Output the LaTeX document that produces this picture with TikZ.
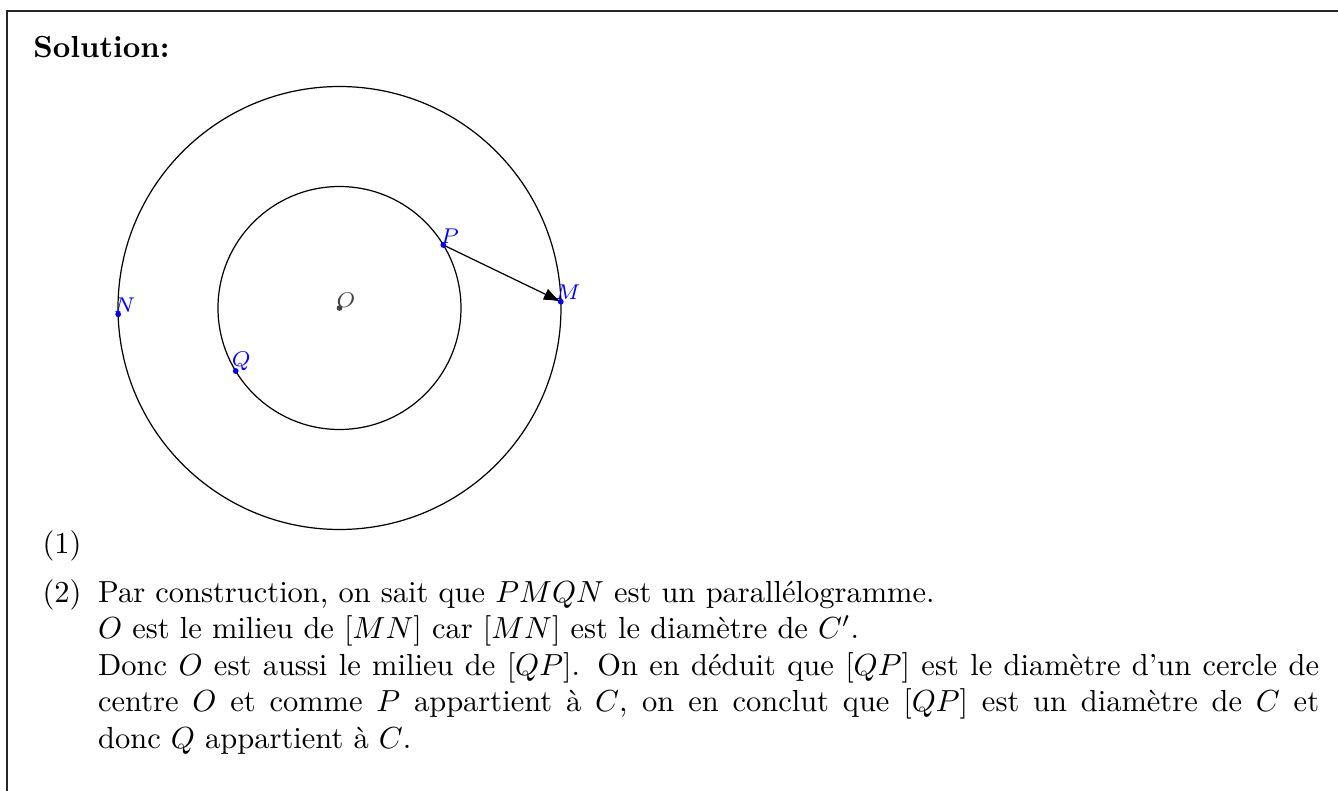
\documentclass[tikz,border=0pt]{standalone}
\usetikzlibrary{arrows.meta,calc}
\definecolor{ptblue}{RGB}{0,0,255}
\definecolor{ogray}{RGB}{68,68,68}
\begin{document}
\begin{tikzpicture}[x=0.328pt,y=-0.328pt,
  frame/.style={line width=0.6pt,black!85},
  circ/.style={line width=0.4pt,black},
  vec/.style={line width=0.4pt,black,-{Latex[length=5.6pt,width=4pt]}},
  ptdot/.style={circle,fill=ptblue,inner sep=0pt,minimum size=1.9pt},
  odot/.style={circle,fill=ogray,inner sep=0pt,minimum size=1.9pt},
  ptlabel/.style={text=ptblue,font=\scriptsize,inner sep=0pt},
  olabel/.style={text=ogray,font=\scriptsize,inner sep=0pt},
  body/.style={inner sep=0pt,anchor=base west}]
\useasboundingbox (0,0) rectangle (1338,791);
% frame
\draw[frame] (7,791) -- (7,11) -- (1338,11);
% geometry
\coordinate (O) at (339.5,308);
\coordinate (P) at (443.3,245);
\coordinate (M) at (560.8,301.7);
\coordinate (N) at (118.2,314.3);
\coordinate (Q) at (235.7,371);
\draw[circ] (O) circle[radius=72.65pt];
\draw[circ] (O) circle[radius=39.85pt];
\draw[vec] (P) -- (M);
\node[odot] (Od) at (O) {};
\node[ptdot] (Pd) at (P) {};
\node[ptdot] (Md) at (M) {};
\node[ptdot] (Nd) at (N) {};
\node[ptdot] (Qd) at (Q) {};
\node[olabel] (Ol) at ($(O)+(6.5,-8)$) {$O$};
\node[ptlabel] (Pl) at ($(P)+(6.5,-9)$) {$P$};
\node[ptlabel] (Ml) at ($(M)+(7,-9)$) {$M$};
\node[ptlabel] (Nl) at ($(N)+(6.5,-9.5)$) {$N$};
\node[ptlabel] (Ql) at ($(Q)+(5.5,-10)$) {$Q$};
% text
\node[body] (sol) at (32.7,58) {\textbf{Solution:}};
\node[body] (it1) at (42,553) {(1)};
\node[body] (it2) at (42,602) {(2)};
\node[body] (l1) at (97.5,602) {Par construction, on sait que $PMQN$ est un parall\'elogramme.};
\node[body] (l2) at (97.5,638.6) {$O$ est le milieu de $[MN]$ car $[MN]$ est le diam\`etre de $C'$.};
\node[body,text width=400.5pt,align=justify] (l3) at (97.5,675.2) {Donc $O$ est aussi le milieu de $[QP]$. On en d\'eduit que $[QP]$ est le diam\`etre d'un cercle de\linebreak centre $O$ et comme $P$ appartient \`a $C$, on en conclut que $[QP]$ est un diam\`etre de $C$ et\linebreak donc $Q$ appartient \`a $C$.};
\end{tikzpicture}
\end{document}
